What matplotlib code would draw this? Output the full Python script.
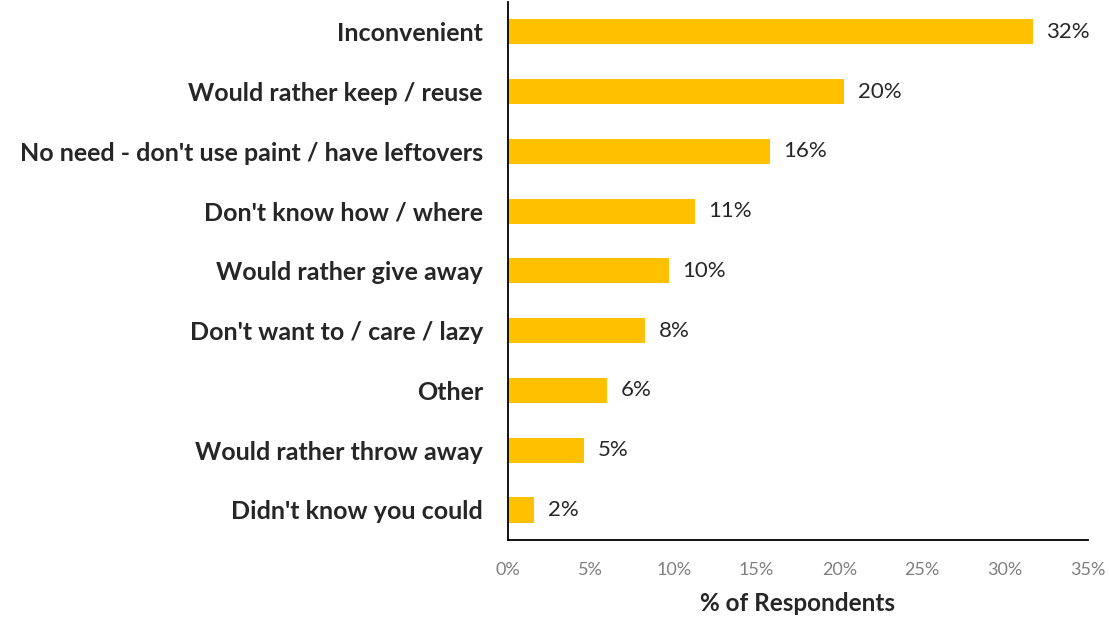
import matplotlib.pyplot as plt

categories = [
    "Inconvenient",
    "Would rather keep / reuse",
    "No need - don't use paint / have leftovers",
    "Don't know how / where",
    "Would rather give away",
    "Don't want to / care / lazy",
    "Other",
    "Would rather throw away",
    "Didn't know you could",
]
values = [31.7, 20.3, 15.8, 11.3, 9.7, 8.3, 6.0, 4.6, 1.6]
xticks = [0, 5, 10, 15, 20, 25, 30, 35]

plt.rcParams['font.family'] = ['Lato', 'DejaVu Sans']

fig = plt.figure(figsize=(11.09, 6.17), dpi=100)
ax = fig.add_axes([0.458, 0.125, 0.523, 0.872])

ypos = list(range(len(categories)))
ax.barh(ypos, values, height=0.42, color='#FFC000')
for y, v in zip(ypos, values):
    ax.text(v + 0.8, y, f"{v:.0f}%", va='center', ha='left', fontsize=16, color='#262626')

ax.set_ylim(len(categories) - 0.5, -0.5)
ax.set_yticks(ypos)
ax.set_yticklabels(categories, fontsize=18, fontweight='bold', color='#262626')
ax.tick_params(axis='y', length=0, pad=18)

ax.set_xlim(0, 35)
ax.set_xticks(xticks)
ax.set_xticklabels([f"{t}%" for t in xticks], fontsize=13, color='#7f7f7f')
ax.tick_params(axis='x', length=0, pad=16)
ax.set_xlabel('% of Respondents', fontsize=17.5, fontweight='bold', color='#262626', labelpad=10)

for s in ['top', 'right']:
    ax.spines[s].set_visible(False)
for s in ['left', 'bottom']:
    ax.spines[s].set_color('black')
    ax.spines[s].set_linewidth(1.3)

fig.savefig('out.png', dpi=100)
